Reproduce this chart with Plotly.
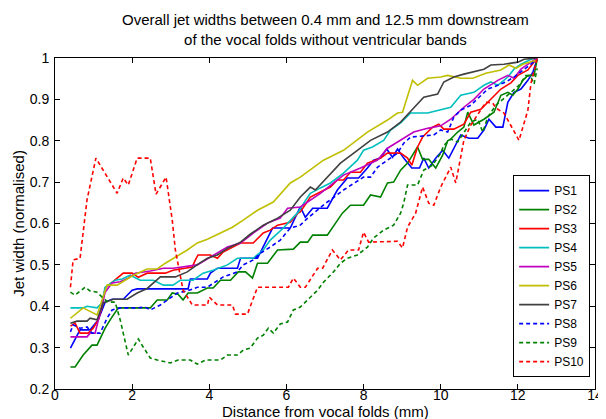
import plotly.graph_objects as go

# ---- data ----
ps1_x = [0.4, 0.65, 0.91, 1.12, 1.30, 1.48, 1.77, 2.00, 2.13, 3.45, 3.51, 3.95, 4.03, 4.21, 4.73, 4.81,
         5.25, 5.51, 5.64, 6.10, 6.36, 6.49, 6.68, 7.06, 7.32, 7.58, 7.87, 8.10, 8.26, 8.44, 8.60, 8.75,
         8.88, 9.04, 9.25, 9.45, 9.56, 9.69, 9.87, 10.05, 10.21, 10.52, 10.73, 10.96, 11.12, 11.25, 11.43,
         11.61, 11.74, 11.90, 12.08, 12.26, 12.39, 12.5]
ps1_y = [0.299, 0.343, 0.343, 0.367, 0.410, 0.417, 0.417, 0.439, 0.442, 0.442, 0.466, 0.466, 0.480, 0.492,
         0.492, 0.516, 0.516, 0.567, 0.589, 0.589, 0.640, 0.615, 0.637, 0.637, 0.681, 0.710, 0.710, 0.734,
         0.753, 0.758, 0.780, 0.760, 0.780, 0.758, 0.734, 0.734, 0.758, 0.734, 0.758, 0.777, 0.758, 0.814,
         0.806, 0.806, 0.826, 0.852, 0.833, 0.833, 0.893, 0.917, 0.925, 0.946, 0.966, 0.997]

ps2_x = [0.4, 0.52, 0.73, 0.96, 1.09, 1.30, 1.43, 1.64, 2.47, 2.65, 2.91, 3.04, 3.19, 3.32, 3.45, 3.69,
         3.95, 4.10, 4.29, 4.55, 4.75, 4.94, 5.12, 5.25, 5.51, 5.77, 6.18, 6.36, 6.55, 6.68, 7.06, 7.45,
         7.66, 8.00, 8.18, 8.44, 8.62, 8.78, 8.96, 9.14, 9.40, 9.53, 9.69, 9.87, 10.05, 10.18, 10.26,
         10.44, 10.60, 10.70, 10.86, 11.12, 11.38, 11.56, 11.74, 11.87, 12.00, 12.13, 12.26, 12.42, 12.5]
ps2_y = [0.253, 0.253, 0.282, 0.306, 0.306, 0.347, 0.367, 0.396, 0.396, 0.415, 0.415, 0.432, 0.429, 0.415,
         0.432, 0.432, 0.444, 0.444, 0.463, 0.463, 0.483, 0.483, 0.468, 0.504, 0.504, 0.536, 0.538, 0.555,
         0.555, 0.572, 0.572, 0.625, 0.644, 0.644, 0.669, 0.664, 0.698, 0.700, 0.729, 0.746, 0.785, 0.755,
         0.755, 0.734, 0.765, 0.800, 0.804, 0.821, 0.833, 0.869, 0.838, 0.852, 0.869, 0.910, 0.917, 0.910,
         0.925, 0.946, 0.958, 0.958, 0.997]

ps3_x = [0.4, 0.52, 0.65, 0.86, 0.99, 1.12, 1.22, 1.30, 1.51, 1.77, 2.00, 2.16, 2.39, 2.86, 3.06, 3.43,
         3.56, 3.64, 3.71, 4.03, 4.21, 4.36, 4.62, 4.81, 5.14, 5.40, 5.58, 5.77, 6.10, 6.29, 6.36, 6.62,
         6.88, 7.14, 7.32, 7.48, 7.66, 7.92, 8.10, 8.44, 8.62, 8.96, 9.14, 9.25, 9.40, 9.53, 9.79, 9.95,
         10.08, 10.34, 10.60, 10.78, 11.04, 11.22, 11.48, 11.56, 11.82, 12.00, 12.26, 12.42, 12.5]
ps3_y = [0.352, 0.359, 0.335, 0.335, 0.347, 0.367, 0.398, 0.444, 0.460, 0.480, 0.480, 0.470, 0.480, 0.480,
         0.487, 0.492, 0.495, 0.512, 0.524, 0.524, 0.516, 0.531, 0.543, 0.553, 0.553, 0.577, 0.584, 0.596,
         0.603, 0.625, 0.628, 0.664, 0.676, 0.688, 0.705, 0.705, 0.724, 0.724, 0.746, 0.758, 0.770, 0.770,
         0.758, 0.741, 0.785, 0.809, 0.833, 0.840, 0.828, 0.828, 0.840, 0.869, 0.876, 0.893, 0.917, 0.925,
         0.940, 0.958, 0.971, 0.990, 1.0]

ps4_x = [0.4, 0.73, 0.83, 1.09, 1.22, 1.30, 1.56, 1.74, 1.95, 2.21, 2.55, 2.81, 3.06, 3.25, 3.58, 3.84,
         4.10, 4.47, 4.73, 5.14, 5.40, 5.58, 5.92, 6.18, 6.31, 6.49, 6.62, 6.88, 7.14, 7.48, 7.84, 8.00,
         8.23, 8.52, 8.70, 8.96, 9.22, 9.66, 10.00, 10.26, 10.52, 10.86, 11.12, 11.30, 11.48, 11.74,
         11.90, 12.08, 12.34, 12.5]
ps4_y = [0.396, 0.396, 0.400, 0.396, 0.408, 0.446, 0.463, 0.466, 0.475, 0.463, 0.463, 0.451, 0.451, 0.463,
         0.463, 0.480, 0.487, 0.500, 0.516, 0.516, 0.536, 0.560, 0.589, 0.615, 0.628, 0.655, 0.673, 0.686,
         0.698, 0.722, 0.753, 0.777, 0.785, 0.801, 0.826, 0.843, 0.867, 0.867, 0.874, 0.881, 0.910, 0.917,
         0.934, 0.942, 0.934, 0.954, 0.973, 0.985, 0.997, 1.0]

ps5_x = [0.4, 0.83, 0.91, 1.04, 1.17, 1.30, 1.48, 1.69, 1.90, 2.08, 2.47, 2.81, 3.06, 3.32, 3.69, 4.03,
         4.21, 4.47, 4.81, 5.14, 5.51, 5.84, 6.03, 6.36, 6.88, 7.22, 7.48, 7.92, 8.36, 8.62, 8.96, 9.30,
         9.66, 10.00, 10.26, 10.60, 10.86, 11.12, 11.48, 11.74, 11.90, 12.08, 12.34, 12.5]
ps5_y = [0.326, 0.326, 0.335, 0.335, 0.384, 0.434, 0.456, 0.459, 0.468, 0.480, 0.485, 0.492, 0.492, 0.495,
         0.500, 0.519, 0.528, 0.543, 0.553, 0.577, 0.601, 0.613, 0.637, 0.640, 0.673, 0.698, 0.717, 0.734,
         0.753, 0.782, 0.801, 0.821, 0.830, 0.836, 0.852, 0.881, 0.900, 0.925, 0.946, 0.958, 0.951, 0.973,
         0.990, 1.0]

ps6_x = [0.4, 0.73, 1.09, 1.35, 1.61, 2.03, 2.39, 2.65, 2.86, 3.17, 3.43, 3.69, 3.95, 4.29, 4.60, 4.88,
         5.06, 5.25, 5.66, 6.10, 6.36, 6.96, 7.48, 8.10, 8.62, 8.88, 9.01, 9.27, 9.40, 9.66, 10.00, 10.18,
         10.52, 10.83, 11.17, 11.56, 11.77, 11.95, 12.13, 12.34, 12.5]
ps6_y = [0.371, 0.396, 0.379, 0.451, 0.451, 0.475, 0.490, 0.490, 0.504, 0.521, 0.536, 0.553, 0.562, 0.577,
         0.591, 0.608, 0.620, 0.632, 0.652, 0.698, 0.712, 0.753, 0.777, 0.821, 0.850, 0.867, 0.869, 0.946,
         0.934, 0.951, 0.954, 0.958, 0.951, 0.951, 0.963, 0.971, 0.983, 0.975, 0.985, 0.990, 0.995]

ps7_x = [0.4, 0.57, 0.83, 0.91, 1.09, 1.25, 1.51, 1.87, 2.13, 2.39, 2.73, 3.12, 3.43, 3.71, 3.95, 4.21,
         4.49, 4.81, 5.06, 5.40, 5.77, 6.10, 6.36, 6.62, 6.75, 7.06, 7.40, 7.84, 8.18, 8.62, 8.96, 9.30,
         9.56, 9.92, 10.08, 10.34, 10.60, 11.12, 11.30, 11.64, 12.00, 12.16, 12.5]
ps7_y = [0.359, 0.364, 0.364, 0.371, 0.367, 0.408, 0.417, 0.417, 0.432, 0.443, 0.471, 0.471, 0.483, 0.502,
         0.516, 0.524, 0.541, 0.555, 0.574, 0.596, 0.613, 0.632, 0.664, 0.688, 0.681, 0.712, 0.746, 0.777,
         0.801, 0.821, 0.845, 0.879, 0.905, 0.913, 0.942, 0.954, 0.961, 0.973, 0.983, 0.985, 0.990, 0.997,
         1.0]

ps8_x = [0.4, 0.47, 0.65, 0.83, 0.96, 1.17, 1.35, 1.48, 1.69, 2.13, 2.34, 2.47, 2.73, 2.99, 3.17, 3.43,
         3.69, 3.95, 4.21, 4.36, 4.73, 4.88, 5.14, 5.32, 5.58, 5.84, 6.10, 6.36, 6.55, 6.70, 7.06, 7.14,
         7.48, 8.00, 8.18, 8.36, 8.62, 8.88, 9.04, 9.22, 9.48, 9.82, 10.00, 10.18, 10.34, 10.52, 10.78,
         11.04, 11.22, 11.48, 11.69, 11.90, 12.08, 12.34, 12.5]
ps8_y = [0.338, 0.355, 0.347, 0.350, 0.335, 0.335, 0.371, 0.391, 0.396, 0.396, 0.398, 0.391, 0.403, 0.420,
         0.432, 0.437, 0.446, 0.446, 0.463, 0.471, 0.483, 0.500, 0.512, 0.528, 0.543, 0.560, 0.589, 0.596,
         0.613, 0.625, 0.652, 0.657, 0.681, 0.712, 0.712, 0.736, 0.753, 0.770, 0.794, 0.809, 0.811, 0.814,
         0.826, 0.821, 0.857, 0.874, 0.886, 0.910, 0.925, 0.934, 0.942, 0.954, 0.966, 0.985, 0.997]

ps9_x = [0.4, 0.52, 0.78, 0.91, 1.09, 1.22, 1.38, 1.56, 1.69, 1.82, 1.90, 2.03, 2.16, 2.29, 2.47, 2.65,
         2.99, 3.19, 3.51, 3.69, 3.90, 4.29, 4.47, 4.73, 4.88, 5.06, 5.25, 5.40, 5.53, 5.66, 5.84, 6.03,
         6.18, 6.36, 6.62, 6.81, 6.96, 7.22, 7.40, 7.58, 7.84, 8.10, 8.26, 8.52, 8.78, 8.96, 9.04, 9.14,
         9.40, 9.56, 9.79, 10.00, 10.08, 10.26, 10.44, 10.60, 10.78, 10.96, 11.09, 11.22, 11.43, 11.61,
         11.82, 12.03, 12.21, 12.34, 12.42, 12.5]
ps9_y = [0.434, 0.427, 0.446, 0.437, 0.434, 0.422, 0.410, 0.410, 0.367, 0.318, 0.282, 0.301, 0.321, 0.301,
         0.275, 0.270, 0.263, 0.270, 0.270, 0.260, 0.270, 0.270, 0.282, 0.282, 0.294, 0.299, 0.323, 0.330,
         0.347, 0.335, 0.357, 0.362, 0.391, 0.398, 0.422, 0.439, 0.458, 0.483, 0.504, 0.516, 0.524, 0.543,
         0.565, 0.584, 0.596, 0.625, 0.649, 0.693, 0.693, 0.729, 0.741, 0.770, 0.789, 0.804, 0.797, 0.821,
         0.845, 0.852, 0.821, 0.857, 0.886, 0.900, 0.917, 0.934, 0.958, 0.954, 0.937, 0.975]

ps10_x = [0.4, 0.47, 0.65, 0.83, 1.06, 1.61, 1.77, 1.90, 2.13, 2.47, 2.62, 2.88, 3.04, 3.12, 3.32, 3.56,
          3.95, 4.00, 4.21, 4.60, 4.68, 4.99, 5.25, 6.05, 6.18, 6.36, 6.49, 6.81, 6.94, 7.19, 7.40, 7.61,
          7.87, 8.00, 8.13, 8.88, 9.01, 9.14, 9.35, 9.53, 9.69, 9.82, 10.00, 10.26, 10.39, 10.60, 10.78,
          11.17, 11.35, 11.43, 11.64, 12.03, 12.26, 12.34, 12.47, 12.5]
ps10_y = [0.446, 0.512, 0.516, 0.657, 0.758, 0.673, 0.710, 0.693, 0.758, 0.758, 0.671, 0.712, 0.608, 0.536,
          0.439, 0.403, 0.403, 0.422, 0.403, 0.403, 0.381, 0.381, 0.446, 0.446, 0.468, 0.446, 0.446, 0.492,
          0.492, 0.536, 0.512, 0.536, 0.536, 0.579, 0.555, 0.557, 0.541, 0.591, 0.625, 0.688, 0.649, 0.644,
          0.688, 0.736, 0.698, 0.801, 0.838, 0.893, 0.891, 0.879, 0.867, 0.801, 0.874, 0.939, 0.987, 1.0]

names = ["PS1", "PS2", "PS3", "PS4", "PS5", "PS6", "PS7", "PS8", "PS9", "PS10"]
xs = [ps1_x, ps2_x, ps3_x, ps4_x, ps5_x, ps6_x, ps7_x, ps8_x, ps9_x, ps10_x]
ys = [ps1_y, ps2_y, ps3_y, ps4_y, ps5_y, ps6_y, ps7_y, ps8_y, ps9_y, ps10_y]
colors = ["#0000ff", "#008000", "#ff0000", "#00bfbf", "#bf00bf", "#bfbf00", "#404040",
          "#0000ff", "#008000", "#ff0000"]
dashes = ["solid"] * 7 + ["4px,3px"] * 3

x_ticks = [0, 2, 4, 6, 8, 10, 12, 14]
y_ticks = [0.2, 0.3, 0.4, 0.5, 0.6, 0.7, 0.8, 0.9, 1.0]
y_tick_text = ["0.2", "0.3", "0.4", "0.5", "0.6", "0.7", "0.8", "0.9", "1"]

title_text = ("Overall jet widths between 0.4 mm and 12.5 mm downstream<br>"
              "of the vocal folds without ventricular bands")
x_title = "Distance from vocal folds (mm)"
y_title = "Jet width (normalised)"

FONT = "Liberation Sans, Arial, Helvetica, sans-serif"

fig = go.Figure()
for n, x, y, c, d in zip(names, xs, ys, colors, dashes):
    fig.add_trace(go.Scatter(x=x, y=y, mode="lines", name=n,
                             line=dict(color=c, width=1.6, dash=d)))

axis_common = dict(showline=True, linecolor="black", linewidth=1, mirror="ticks",
                   ticks="inside", ticklen=5, tickcolor="black", showgrid=False,
                   zeroline=False, automargin=False,
                   tickfont=dict(size=14, color="black", family=FONT))

# page body has an 8px default margin, so the figure is sized to fit the window
fig.update_layout(
    width=598, height=411,
    margin=dict(l=47, r=11, t=50, b=30),
    paper_bgcolor="white", plot_bgcolor="white",
    font=dict(family=FONT, color="black"),
    xaxis=dict(range=[0, 14], tickvals=x_ticks, ticklabelstandoff=-7, **axis_common),
    yaxis=dict(range=[0.2, 1.0], tickvals=y_ticks, ticktext=y_tick_text,
               ticklabelstandoff=2, **axis_common),
    legend=dict(x=0.991, xanchor="right", y=0.036, yanchor="bottom",
                bordercolor="black", borderwidth=1, bgcolor="white",
                font=dict(size=12, color="black", family=FONT),
                tracegroupgap=0, itemwidth=30),
    showlegend=True,
    annotations=[
        dict(text=title_text, xref="paper", yref="paper", x=0.5, y=1.0846,
             xanchor="center", yanchor="middle", showarrow=False,
             font=dict(size=15, color="black", family=FONT)),
        dict(text=x_title, xref="paper", yref="paper", x=0.5, y=-0.069,
             xanchor="center", yanchor="middle", showarrow=False,
             font=dict(size=15, color="black", family=FONT)),
        dict(text=y_title, xref="paper", yref="paper", x=-0.068, y=0.5,
             xanchor="center", yanchor="middle", showarrow=False, textangle=-90,
             font=dict(size=15, color="black", family=FONT)),
    ],
)

fig.write_html("out.html")
